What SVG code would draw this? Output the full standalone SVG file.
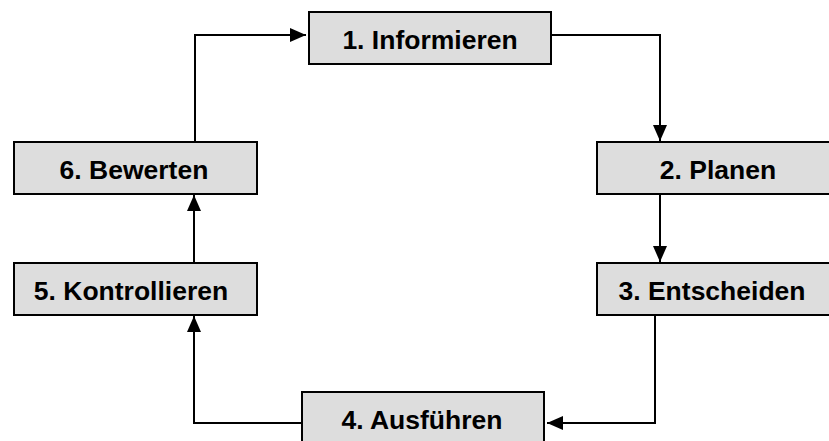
<svg xmlns="http://www.w3.org/2000/svg" width="829" height="441" viewBox="0 0 829 441">
<style>
.box{fill:#dddddd;stroke:#000;stroke-width:2}
.lbl{font-family:"Liberation Sans",Arial,sans-serif;font-weight:bold;font-size:26.5px;fill:#000;text-anchor:middle}
.con{fill:none;stroke:#000;stroke-width:2}
</style>
<defs>
<marker id="ah" markerWidth="16" markerHeight="14" refX="16" refY="7" orient="auto" markerUnits="userSpaceOnUse">
<path d="M0,0 L16,7 L0,14 Z" fill="#000"/>
</marker>
</defs>
<rect width="829" height="441" fill="#fff"/>
<g id="connectors">
<path class="con" d="M195,142 V35 H306" marker-end="url(#ah)"/>
<path class="con" d="M551,35 H660 V141" marker-end="url(#ah)"/>
<path class="con" d="M660,194 V262" marker-end="url(#ah)"/>
<path class="con" d="M655,315 V423 H547" marker-end="url(#ah)"/>
<path class="con" d="M302,423 H194 V316" marker-end="url(#ah)"/>
<path class="con" d="M194,263 V195" marker-end="url(#ah)"/>
</g>
<g id="n1"><rect class="box" x="309" y="12" width="242" height="52"/><text class="lbl" x="430" y="49">1. Informieren</text></g>
<g id="n2"><rect class="box" x="597" y="142" width="242" height="52"/><text class="lbl" x="718" y="179">2. Planen</text></g>
<g id="n3"><rect class="box" x="597" y="263" width="242" height="52"/><text class="lbl" x="712" y="300">3. Entscheiden</text></g>
<g id="n4"><rect class="box" x="302" y="392" width="242" height="52"/><text class="lbl" x="422" y="429">4. Ausführen</text></g>
<g id="n5"><rect class="box" x="14" y="263" width="243" height="52"/><text class="lbl" x="131" y="300">5. Kontrollieren</text></g>
<g id="n6"><rect class="box" x="14" y="142" width="243" height="52"/><text class="lbl" x="134" y="179">6. Bewerten</text></g>
</svg>
